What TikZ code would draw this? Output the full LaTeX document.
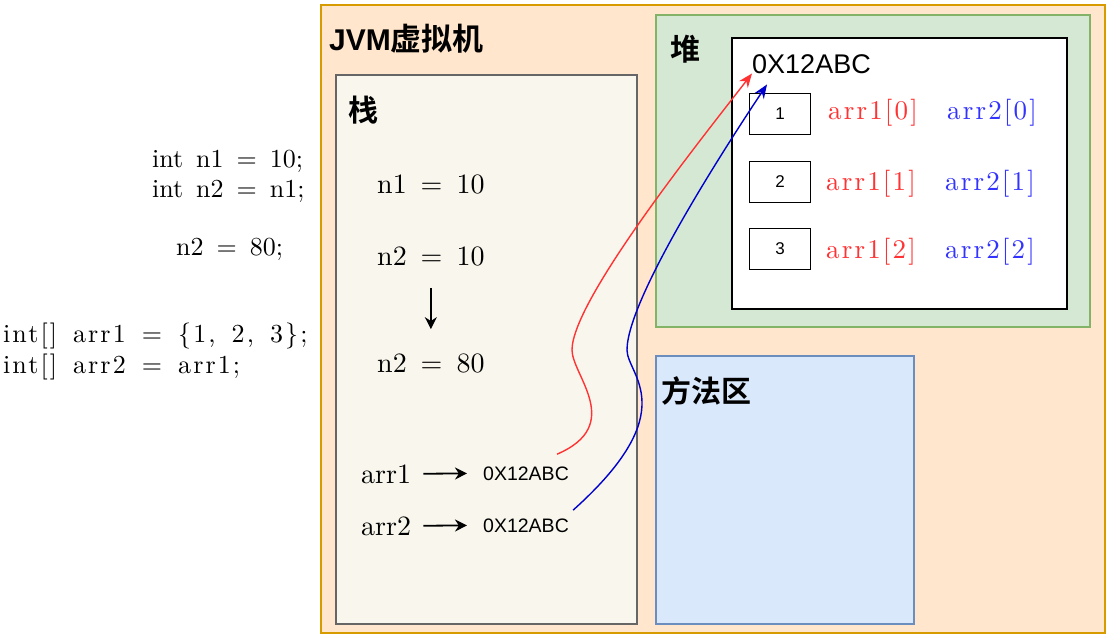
\documentclass[tikz,border=0pt]{standalone}
\usepackage{fontspec}
\setmainfont{lmroman10-regular.otf}[WordSpace=1.5]
\newfontfamily\wide{lmroman10-regular.otf}[WordSpace=1.5, LetterSpace=8]
\newfontfamily\arial{Liberation Sans}
\newfontfamily\hei{Noto Sans CJK SC Bold}
\usepackage{tikz}
\usetikzlibrary{positioning,arrows.meta}
\usepackage{xcolor}
\definecolor{jvmfill}{HTML}{FFE6CC}
\definecolor{jvmline}{HTML}{D79B00}
\definecolor{stackfill}{HTML}{F9F7ED}
\definecolor{stackline}{HTML}{666666}
\definecolor{heapfill}{HTML}{D5E8D4}
\definecolor{heapline}{HTML}{82B366}
\definecolor{methfill}{HTML}{DAE8FC}
\definecolor{methline}{HTML}{6C8EBF}
\definecolor{redtxt}{HTML}{FF3333}
\definecolor{bluetxt}{HTML}{3333FF}
\definecolor{bluearc}{HTML}{0000CC}
\tikzset{
  area/.style={draw, anchor=north west, inner sep=0pt, line width=1.8pt},
  title/.style={anchor=west, inner sep=0pt, font=\hei\fontsize{30}{30}\selectfont},
  code/.style={anchor=base west, inner sep=0pt, font=\fontsize{26}{26}\selectfont},
  widecode/.style={anchor=base west, inner sep=0pt, font=\wide\fontsize{26}{26}\selectfont},
  val/.style={anchor=base west, inner sep=0pt, font=\fontsize{28}{28}\selectfont},
  hex/.style={anchor=base west, inner sep=0pt, font=\arial\fontsize{19.5}{19.5}\selectfont},
  cell/.style={draw, line width=1.8pt, minimum width=61pt, minimum height=41pt, inner sep=0pt, font=\arial\fontsize{17}{17}\selectfont},
  elem/.style={anchor=base west, inner sep=0pt, font=\wide\fontsize{27}{27}\selectfont},
  arr/.style={-{Stealth[length=12pt,width=12pt]}, line width=1.8pt},
  link/.style={-{Stealth[length=14pt,width=11pt]}, line width=1.4pt},
}

\begin{document}
\begin{tikzpicture}[x=1pt,y=-1pt]
\useasboundingbox (0,0) rectangle (1108,635);
\node[code](c1) at (152,167){int n1 = 10;};
\node[code](c2) at (152,197){int n2 = n1;};
\node[code](c3) at (176,255){n2 = 80;};
\node[widecode](c4) at (3,342){int[] arr1 = \{1, 2, 3\};};
\node[widecode](c5) at (3,373){int[] arr2 = arr1;};

\node[area, fill=jvmfill, draw=jvmline, minimum width=784pt, minimum height=628pt](jvm) at (320,4){};
\node[anchor=base west, inner sep=0pt, font=\arial\bfseries\fontsize{30}{30}\selectfont](jvmname) at (329,50){JVM{\mdseries\hei\fontsize{31}{31}\selectfont 虚拟机}};

\node[area, fill=stackfill, draw=stackline, minimum width=301pt, minimum height=549pt](stack) at (335,74){};
\node[title](stackname) at (348,110){栈};
\node[val](n1) at (377,193){n1 = 10};
\node[val](n2a) at (377,265){n2 = 10};
\node[val](n2b) at (377,372){n2 = 80};
\draw[arr, shorten <=22pt, shorten >=24pt] (n2a.south) -- (n2b.north);
\node[val](var1) at (361,483){arr1};
\node[hex](ptr1) at (483,480){0X12ABC};
\node[val](var2) at (361,535){arr2};
\node[hex](ptr2) at (483,532){0X12ABC};
\draw[arr, shorten <=12pt, shorten >=16pt] (var1.east) -- (ptr1.west);
\draw[arr, shorten <=12pt, shorten >=16pt] (var2.east) -- (ptr2.west);

\node[area, fill=heapfill, draw=heapline, minimum width=434pt, minimum height=312pt](heap) at (655,14){};
\node[title](heapname) at (670,49){堆};
\node[area, fill=white, draw=black, minimum width=335pt, minimum height=271pt](obj) at (731,37){};
\node[anchor=base west, inner sep=0pt, font=\arial\fontsize{27}{27}\selectfont](addr) at (752,73){0X12ABC};
\node[cell](e0) at (780,114){1};
\node[cell](e1) at (780,182){2};
\node[cell](e2) at (780,249){3};
\node[elem, text=redtxt](a10) at (828,119){arr1[0]};
\node[elem, text=bluetxt](a20) at (947,119){arr2[0]};
\node[elem, text=redtxt](a11) at (826,190){arr1[1]};
\node[elem, text=bluetxt](a21) at (945,190){arr2[1]};
\node[elem, text=redtxt](a12) at (826,258){arr1[2]};
\node[elem, text=bluetxt](a22) at (945,258){arr2[2]};

\node[area, fill=methfill, draw=methline, minimum width=258pt, minimum height=268pt](meth) at (655,355){};
\node[title](methname) at (661,391){方法区};

\draw[link, redtxt] ([shift={(-12,-12)}]ptr1.north east) .. controls (625,425) and (572,375) .. (572,350) .. controls (572,300) and (703,137) .. (addr.south west);
\draw[link, bluearc] ([shift={(4,-8)}]ptr2.north east) .. controls (685,410) and (627,375) .. (627,350) .. controls (627,300) and (722,152) .. ([shift={(15,11)}]addr.south west);
\end{tikzpicture}
\end{document}
